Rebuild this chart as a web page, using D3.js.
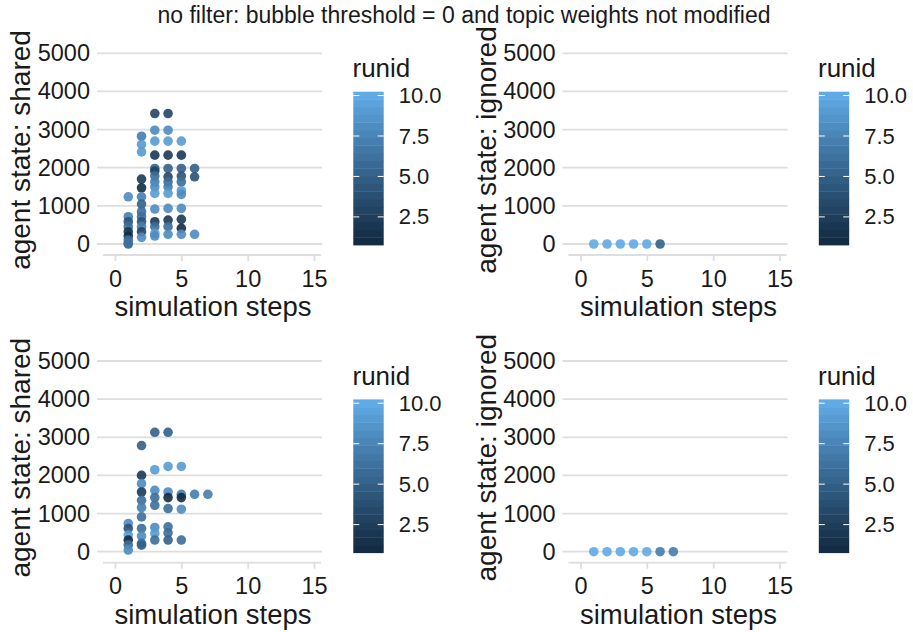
<!DOCTYPE html>
<html><head><meta charset="utf-8">
<script src="https://cdn.jsdelivr.net/npm/d3@7"></script>
<style>
body{margin:0;background:#fff}
svg{display:block}
text{font-family:"Liberation Sans",Arial,Helvetica,sans-serif;fill:#1a1a1a}
</style>
</head><body>
<svg id="chart" width="913" height="632"></svg>
<script>
// ---------- data ----------
const plotTitle = "no filter: bubble threshold = 0 and topic weights not modified";
const xTitle = "simulation steps";
const yTitles = ["agent state: shared", "agent state: ignored"];
const legendTitle = "runid";
const stepTicks = [0, 5, 10, 15];
const valueTicks = [0, 1000, 2000, 3000, 4000, 5000];
const legendTicks = [2.5, 5.0, 7.5, 10.0];
const runidRange = [1, 10];

// [step, value, runid]
const sharedTop = [
  [1,1238,8],[1,715,7],[1,584,4],[1,453,6],[1,322,2],[1,209,1],[1,105,6],[1,20,7],[1,0,6],
  [2,2827,7],[2,2610,9],[2,2416,9],[2,1702,2],[2,1474,1],[2,1238,7],[2,1047,5],[2,846,6],[2,715,6],[2,584,4],[2,453,7],[2,322,3],[2,175,8],
  [3,3421,3],[3,2984,8],[3,2696,9],[3,2330,2],[3,1981,5],[3,1911,3],[3,1780,6],[3,1631,7],[3,1500,8],[3,1327,9],[3,916,8],[3,584,2],[3,453,6],[3,280,9],[3,209,8],
  [4,3421,3],[4,2984,8],[4,2696,9],[4,2330,2],[4,1981,5],[4,1762,3],[4,1631,6],[4,1500,7],[4,1327,9],[4,934,8],[4,628,2],[4,453,6],[4,254,8],
  [5,2696,9],[5,2330,2],[5,1981,5],[5,1780,4],[5,1631,6],[5,1396,9],[5,1300,8],[5,934,8],[5,646,2],[5,410,1],[5,254,8],
  [6,1981,5],[6,1762,4],[6,254,8]
];
const ignoredTop = [
  [1,0,10],[2,0,10],[3,0,10],[4,0,10],[5,0,10],[6,0,5]
];
const sharedBottom = [
  [1,741,8],[1,610,4],[1,436,9],[1,305,1],[1,175,6],[1,44,8],
  [2,2783,5],[2,2000,2],[2,1784,8],[2,1565,2],[2,1348,6],[2,1158,7],[2,913,6],[2,610,6],[2,410,8],[2,219,6],[2,170,5],
  [3,3130,5],[3,2149,9],[3,1609,8],[3,1419,6],[3,1218,6],[3,636,8],[3,480,9],[3,305,6],
  [4,3130,5],[4,2235,9],[4,1565,8],[4,1419,1],[4,1132,6],[4,652,6],[4,496,6],[4,305,5],
  [5,2235,9],[5,1505,7],[5,1419,1],[5,1114,8],[5,305,6],
  [6,1505,7],
  [7,1505,7]
];
const ignoredBottom = [
  [1,0,10],[2,0,10],[3,0,10],[4,0,10],[5,0,10],[6,0,7],[7,0,7]
];

// ---------- layout ----------
const svg = d3.select("#chart");
const colStep = 465.5, rowStep = 307.7;
const gridColor = "#dedede";
const color = d3.scaleLinear().domain(runidRange).range(["#132b43", "#60aae6"]).interpolate(d3.interpolateLab);

svg.append("text")
  .attr("x", 464).attr("y", 23)
  .attr("text-anchor", "middle")
  .style("font-size", "23px")
  .text(plotTitle);

const panels = [
  {c:0, r:0, data: sharedTop, ylab: yTitles[0]},
  {c:1, r:0, data: ignoredTop, ylab: yTitles[1]},
  {c:0, r:1, data: sharedBottom, ylab: yTitles[0]},
  {c:1, r:1, data: ignoredBottom, ylab: yTitles[1]}
];

panels.forEach(p => {
  const ox = p.c * colStep, oy = p.r * rowStep;
  const g = svg.append("g").attr("transform", `translate(${ox},${oy})`);
  const x = d3.scaleLinear().domain([0, 15]).range([115, 314]);
  const y = d3.scaleLinear().domain([0, 5000]).range([244, 53.3]);

  // gridlines
  g.append("g").selectAll("line").data(valueTicks).join("line")
    .attr("x1", 97).attr("x2", 322)
    .attr("y1", d => y(d)).attr("y2", d => y(d))
    .attr("stroke", gridColor).attr("stroke-width", 1.8);

  // y axis labels
  const ya = g.append("g").attr("transform", "translate(97,0)")
    .call(d3.axisLeft(y).tickValues(valueTicks).tickSize(0).tickPadding(7).tickFormat(d3.format("d")));
  ya.select(".domain").remove();
  ya.selectAll("text").style("font-size", "23.5px").style("font-family", "Liberation Sans, Arial, sans-serif").attr("fill", "#1a1a1a");

  // x axis
  g.append("line").attr("x1", 103).attr("x2", 321).attr("y1", 255).attr("y2", 255)
    .attr("stroke", gridColor).attr("stroke-width", 1.8);
  const xa = g.append("g").attr("transform", "translate(0,255)")
    .call(d3.axisBottom(x).tickValues(stepTicks).tickSize(6).tickPadding(9));
  xa.select(".domain").remove();
  xa.selectAll("line").attr("stroke", gridColor).attr("stroke-width", 1.8);
  xa.selectAll("text").style("font-size", "23.5px").style("font-family", "Liberation Sans, Arial, sans-serif").attr("fill", "#1a1a1a");

  // axis titles
  g.append("text").attr("x", 213).attr("y", 316).attr("text-anchor", "middle")
    .style("font-size", "27.5px").text(xTitle);
  g.append("text").attr("transform", "translate(30,150) rotate(-90)").attr("text-anchor", "middle")
    .style("font-size", "28px").text(p.ylab);

  // points
  g.append("g").selectAll("circle").data(p.data).join("circle")
    .attr("cx", d => x(d[0])).attr("cy", d => y(d[1]))
    .attr("r", 4.8)
    .attr("fill", d => color(d[2]))
    .attr("fill-opacity", 0.9);

  // legend
  const lg = g.append("g").attr("transform", "translate(1,0)");
  lg.append("text").attr("x", 351.5).attr("y", 77).style("font-size", "26px").text(legendTitle);
  const barX = 352.3, barW = 30.4, barTop = 91.7, barH = 153.3, nbin = 20;
  const bins = d3.range(nbin).map(i => runidRange[0] + (runidRange[1] - runidRange[0]) * i / (nbin - 1));
  const binH = barH / nbin;
  lg.append("g").selectAll("rect").data(bins).join("rect")
    .attr("x", barX).attr("width", barW)
    .attr("y", (d, i) => barTop + barH - (i + 1) * binH)
    .attr("height", binH + 0.4)
    .attr("fill", d => color(d));
  const ls = d3.scaleLinear().domain(runidRange)
    .range([barTop + barH - 0.5 * binH, barTop + 0.5 * binH]);
  const ticksG = lg.append("g");
  legendTicks.forEach(t => {
    ticksG.append("line").attr("x1", barX).attr("x2", barX + 6).attr("y1", ls(t)).attr("y2", ls(t))
      .attr("stroke", "#fff").attr("stroke-width", 1);
    ticksG.append("line").attr("x1", barX + barW - 6).attr("x2", barX + barW).attr("y1", ls(t)).attr("y2", ls(t))
      .attr("stroke", "#fff").attr("stroke-width", 1);
  });
  const la = lg.append("g").attr("transform", `translate(${barX + barW},0)`)
    .call(d3.axisRight(ls).tickValues(legendTicks).tickSize(0).tickPadding(15).tickFormat(d3.format(".1f")));
  la.select(".domain").remove();
  la.selectAll("text").style("font-size", "22px").style("font-family", "Liberation Sans, Arial, sans-serif").attr("fill", "#1a1a1a");
});
</script>
</body></html>
